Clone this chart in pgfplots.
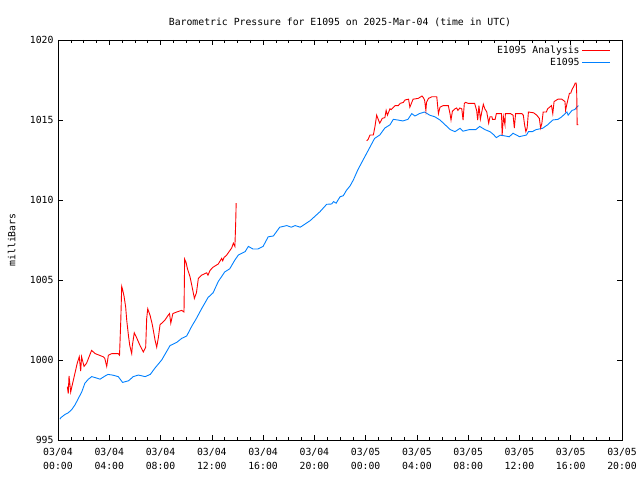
\documentclass[border=0pt]{standalone}
\usepackage{fontspec}
\setmainfont{DejaVu Sans Mono}
\usepackage{pgfplots}
\pgfplotsset{compat=1.18}
\definecolor{anared}{RGB}{255,0,0}
\definecolor{obsblue}{RGB}{0,128,255}
\begin{document}
\begin{tikzpicture}
\begin{axis}[
  name=ax,
  at={(0,0)}, anchor=south west,
  scale only axis,
  width=564pt, height=400pt,
  xmin=0, xmax=44, ymin=995, ymax=1020,
  xtick={0,4,...,44},
  xticklabels={{03/04\\00:00},{03/04\\04:00},{03/04\\08:00},{03/04\\12:00},{03/04\\16:00},{03/04\\20:00},{03/05\\00:00},{03/05\\04:00},{03/05\\08:00},{03/05\\12:00},{03/05\\16:00},{03/05\\20:00}},
  xticklabel style={align=center, font=\fontsize{9.8}{14}\selectfont, yshift=-5pt},
  minor x tick num=3,
  ytick={995,1000,...,1020},
  yticklabel style={font=\fontsize{9.8}{12}\selectfont, xshift=-1pt},
  /pgf/number format/assume math mode=true,
  /pgf/number format/1000 sep={},
  tick align=inside,
  major tick length=5pt, minor tick length=3pt,
  tick style={black, line width=0.6pt},
  axis line style={line width=0.8pt},
  ylabel={milliBars},
  ylabel style={font=\fontsize{9.8}{12}\selectfont, at={(axis description cs:-0.082,0.5)}, anchor=center},
  title={Barometric Pressure for E1095 on 2025-Mar-04 (time in UTC)},
  title style={font=\fontsize{9.8}{12}\selectfont, yshift=4pt},
  legend style={draw=none, fill=none, at={(axis cs:43.2,1019.8)}, anchor=north east, font=\fontsize{9.8}{12}\selectfont, row sep=-1pt, inner sep=1pt},
  legend cell align=right,
  legend plot pos=right,
  legend image code/.code={\draw[#1, line width=0.9pt] (0pt,0pt) -- (28pt,0pt);},
]
\addplot[anared, line width=0.9pt] coordinates {
(0.73,998.33)(0.8,997.9)(0.86,999.0)(0.99,998.0)(1.1,998.4)(1.33,999.2)(1.5,999.8)(1.66,1000.2)(1.77,999.3)(1.84,1000.2)
(2.03,999.6)(2.23,999.8)(2.62,1000.6)(2.9,1000.4)(3.53,1000.2)(3.65,1000.1)(3.8,999.6)(3.93,1000.3)(4.2,1000.4)(4.7,1000.4)
(4.8,1000.3)(4.9,1002.5)(4.97,1004.6)(5.04,1004.4)(5.15,1004.0)(5.28,1003.3)(5.36,1002.5)(5.5,1001.5)(5.6,1000.9)(5.75,1000.4)
(5.8,1000.9)(5.95,1001.7)(6.13,1001.4)(6.4,1000.9)(6.66,1000.5)(6.84,1000.8)(6.92,1002.6)(7.0,1003.2)(7.18,1002.8)(7.36,1002.2)
(7.57,1001.25)(7.7,1000.8)(7.83,1001.4)(7.96,1002.2)(8.35,1002.5)(8.6,1002.8)(8.7,1002.9)(8.8,1002.3)(8.96,1002.9)(9.26,1003.0)
(9.65,1003.1)(9.83,1003.0)(9.88,1006.3)(9.99,1006.1)(10.1,1005.7)(10.3,1005.2)(10.48,1004.5)(10.64,1003.85)(10.8,1004.2)(10.95,1005.1)
(11.2,1005.3)(11.6,1005.45)(11.7,1005.3)(11.86,1005.6)(12.1,1005.8)(12.5,1006.0)(12.77,1006.35)(12.85,1006.2)(12.95,1006.4)(13.16,1006.56)
(13.55,1007.0)(13.68,1007.3)(13.8,1007.1)(13.86,1008.5)(13.9,1009.8)
};
\addlegendentry{E1095 Analysis}
\addplot[obsblue, line width=0.9pt] coordinates {
(0.15,996.3)(0.23,996.4)(0.55,996.6)(0.8,996.7)(1.07,996.9)(1.33,997.2)(1.59,997.6)(1.85,998.0)(2.1,998.55)(2.37,998.8)
(2.63,998.96)(2.9,998.9)(3.28,998.8)(3.67,999.0)(3.9,999.1)(4.3,999.05)(4.7,998.96)(5.04,998.6)(5.5,998.7)(5.87,998.96)
(6.27,999.06)(6.8,998.96)(7.2,999.1)(7.57,999.5)(8.09,1000.0)(8.74,1000.9)(9.26,1001.1)(9.65,1001.35)(10.04,1001.5)(10.43,1002.1)
(10.8,1002.6)(11.2,1003.2)(11.7,1003.9)(12.1,1004.2)(12.5,1004.9)(13.0,1005.5)(13.4,1005.7)(13.8,1006.25)(14.07,1006.56)(14.6,1006.77)
(14.85,1007.1)(15.2,1006.94)(15.6,1006.94)(16.0,1007.1)(16.4,1007.7)(16.8,1007.75)(17.3,1008.3)(17.85,1008.4)(18.2,1008.3)(18.5,1008.4)
(18.9,1008.3)(19.66,1008.7)(20.44,1009.27)(20.96,1009.73)(21.35,1009.75)(21.5,1009.9)(21.7,1009.8)(22.0,1010.2)(22.26,1010.27)(22.5,1010.6)
(22.8,1010.9)(23.04,1011.25)(23.4,1011.9)(23.8,1012.5)(24.2,1013.1)(24.7,1013.85)(25.1,1014.06)(25.5,1014.5)(25.9,1014.7)(26.16,1015.04)
(26.5,1015.0)(26.9,1014.94)(27.3,1015.04)(27.6,1015.4)(27.85,1015.25)(28.2,1015.4)(28.6,1015.5)(29.0,1015.3)(29.4,1015.2)(29.8,1015.0)
(30.2,1014.7)(30.6,1014.4)(30.97,1014.27)(31.36,1014.48)(31.6,1014.3)(32.1,1014.4)(32.6,1014.4)(32.9,1014.6)(33.3,1014.4)(33.7,1014.27)
(33.96,1014.1)(34.2,1013.9)(34.5,1014.05)(34.9,1014.0)(35.2,1013.95)(35.5,1014.17)(36.0,1013.96)(36.55,1014.06)(36.7,1014.27)(37.0,1014.27)
(37.3,1014.4)(37.8,1014.48)(38.2,1014.7)(38.6,1015.0)(39.0,1015.04)(39.3,1015.2)(39.7,1015.5)(39.8,1015.3)(40.1,1015.6)(40.3,1015.65)
(40.6,1015.9)
};
\addlegendentry{E1095}
\addplot[anared, line width=0.9pt, forget plot] coordinates {
(24.08,1013.7)(24.2,1013.8)(24.34,1014.06)(24.6,1014.06)(24.73,1014.6)(24.86,1015.3)(25.0,1015.0)(25.1,1014.8)(25.3,1015.1)(25.5,1015.15)
(25.6,1015.6)(25.7,1015.3)(25.9,1015.7)(26.0,1015.65)(26.3,1015.9)(26.55,1015.9)(26.7,1016.04)(26.94,1016.1)(27.07,1016.25)(27.35,1016.3)
(27.45,1015.8)(27.5,1015.9)(27.7,1016.3)(28.1,1016.35)(28.4,1016.5)(28.5,1016.4)(28.6,1016.25)(28.7,1015.6)(28.75,1016.1)(28.9,1016.35)
(29.16,1016.45)(29.55,1016.45)(29.64,1015.7)(29.68,1015.4)(29.8,1015.8)(30.06,1015.9)(30.45,1015.9)(30.58,1015.4)(30.66,1015.0)(30.77,1015.55)
(30.97,1015.7)(31.1,1015.75)(31.2,1015.6)(31.35,1015.75)(31.5,1015.7)(31.6,1015.0)(31.7,1016.04)(31.8,1016.1)(32.0,1016.04)(32.5,1016.04)
(32.66,1015.6)(32.74,1015.0)(32.84,1015.9)(32.95,1015.05)(33.18,1015.98)(33.3,1015.7)(33.45,1015.5)(33.6,1014.8)(33.7,1015.2)(33.85,1015.2)
(33.9,1015.04)(34.1,1015.04)(34.2,1015.4)(34.6,1015.4)(34.65,1014.06)(34.75,1015.2)(34.87,1014.7)(34.9,1015.4)(35.3,1015.4)(35.5,1015.3)
(35.6,1014.5)(35.7,1015.4)(36.18,1015.4)(36.3,1015.3)(36.4,1014.7)(36.5,1014.27)(36.6,1014.5)(36.7,1015.5)(37.1,1015.45)(37.35,1015.3)
(37.55,1015.1)(37.65,1014.5)(37.75,1014.8)(37.85,1015.5)(38.1,1015.5)(38.2,1015.7)(38.5,1015.9)(38.6,1015.4)(38.7,1016.15)(39.0,1016.3)
(39.3,1016.3)(39.55,1016.15)(39.6,1015.6)(39.7,1016.0)(39.9,1016.67)(40.0,1016.67)(40.1,1016.9)(40.3,1017.2)(40.34,1017.3)(40.43,1017.3)
(40.47,1016.6)(40.5,1014.7)(40.6,1014.7)
};
\end{axis}
\pgfresetboundingbox
\path[use as bounding box] ([xshift=-58pt,yshift=-40pt]ax.south west) rectangle ([xshift=18pt,yshift=40pt]ax.north east);
\end{tikzpicture}
\end{document}
